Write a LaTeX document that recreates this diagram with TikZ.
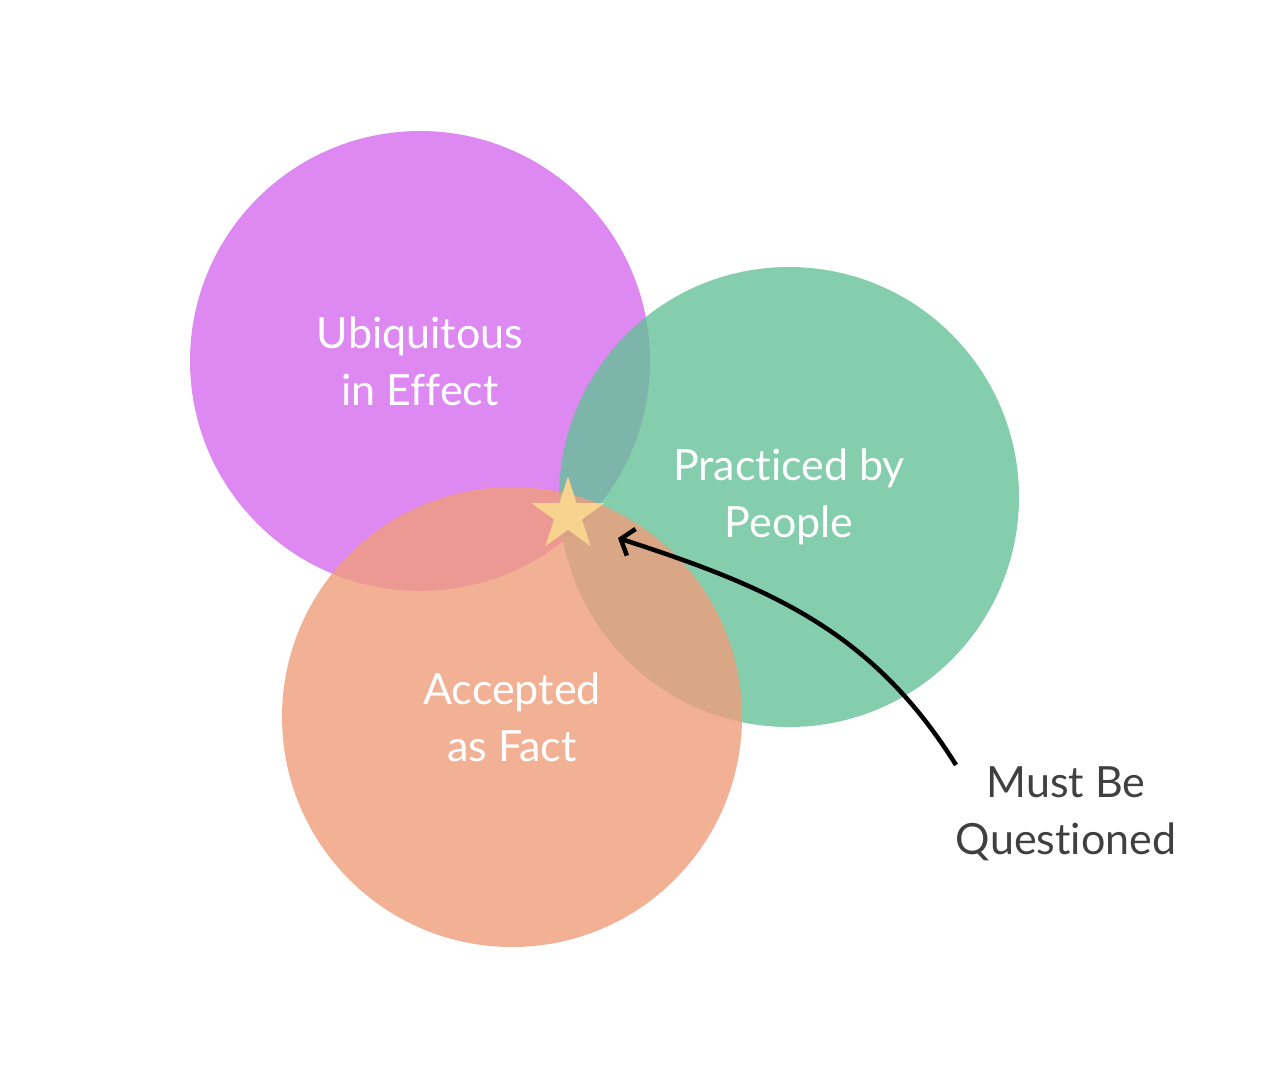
\documentclass[tikz,border=0pt]{standalone}
\usepackage{fontspec}
\setmainfont{Lato}[Ligatures=NoCommon]
\usepackage{xcolor}
\usetikzlibrary{shapes.geometric,arrows.meta}

\definecolor{ubiq}{HTML}{DE89F1}
\definecolor{pract}{RGB}{101,193,153}
\definecolor{accept}{RGB}{239,158,123}
\definecolor{starfill}{HTML}{F8D28F}
\definecolor{note}{HTML}{404040}

\begin{document}
\begin{tikzpicture}[x=1pt,y=-1pt,
        setcircle/.style={circle,minimum size=460pt,inner sep=0pt,
            font=\fontsize{43}{57}\selectfont,text=white,align=center},
        notelabel/.style={font=\fontsize{43}{57}\selectfont,text=note,align=center},
        pointer/.style={line width=4.5pt,-{Straight Barb[length=11pt,width=28pt,line width=4.5pt]}}]
        \useasboundingbox (0,0) rectangle (1274,1080);

        \node[setcircle,fill=ubiq] (ubiq) at (420,361) {Ubiquitous\\in Effect};
        \node[setcircle,fill=pract,fill opacity=0.8,text opacity=1] (pract) at (789,497) {Practiced by\\People};
        \node[setcircle,fill=accept,fill opacity=0.8,text opacity=1] (accept) at (512,717) {Accepted\\as Fact};

        \node[star,star points=5,star point ratio=2.618,minimum size=77pt,inner sep=0pt,fill=starfill] (star) at (568,515) {};

        \node[notelabel] (question) at (1066,814) {Must Be\\Questioned};
        \coordinate (tail) at (956,765);
        \coordinate (tip) at (618,538);
        \draw[pointer] (tail) to[out=122,in=-18] (tip);
\end{tikzpicture}
\end{document}
